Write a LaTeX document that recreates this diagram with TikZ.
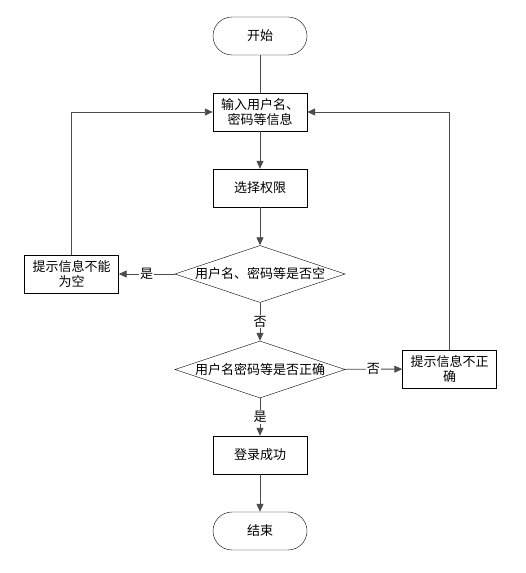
\documentclass[tikz,border=0pt]{standalone}
\usepackage{fontspec}
\setmainfont{Noto Sans CJK SC}
\usetikzlibrary{shapes.geometric,arrows.meta}
\begin{document}
\begin{tikzpicture}[x=1pt,y=1pt,
	font=\fontsize{13}{15}\selectfont,
	term/.style={draw,rounded corners=19pt,minimum width=94pt,minimum height=38pt,inner sep=0pt},
	proc/.style={draw,minimum width=94pt,minimum height=38pt,inner sep=0pt,align=center},
	dec/.style={draw,diamond,aspect=3,minimum width=170pt,minimum height=57pt,inner sep=0pt},
	line/.style={draw=black!70,line width=0.9pt},
	tip/.style={line,-{Triangle[length=8pt,width=7pt]}},
	lbl/.style={fill=white,inner sep=1pt}]
	\newcommand{\midx}{260}
	\useasboundingbox (0,0) rectangle (526,573);
	%main column
	\node [term] (start) at (\midx,537) {开始};
	\node [proc] (input) at (\midx,461) {输入用户名、\\密码等信息};
	\node [proc] (choose) at (\midx,385) {选择权限};
	\node [dec] (isempty) at (\midx,299) {用户名、密码等是否空};
	\node [dec] (iscorrect) at (\midx,203.5) {用户名密码等是否正确};
	\node [proc] (success) at (\midx,118) {登录成功};
	\node [term] (finish) at (\midx,42) {结束};
	%side boxes
	\node [proc] (emptymsg) at (71.5,299) {提示信息不能\\为空};
	\node [proc] (wrongmsg) at (449.5,204) {提示信息不正\\确};
	%connectors
	\draw [line] (start) -- (input);
	\draw [tip] (input) -- (choose);
	\draw [tip] (choose) -- (isempty);
	\draw [tip] (isempty) -- node [lbl] {否} (iscorrect);
	\draw [tip] (isempty) -- node [lbl] {是} (emptymsg);
	\draw [tip] (iscorrect) -- node [lbl] {是} (success);
	\draw [tip] (iscorrect) -- node [lbl] {否} (wrongmsg);
	\draw [tip] (success) -- (finish);
	%loops back
	\draw [tip] (emptymsg) |- (input);
	\draw [tip] (wrongmsg) |- (input);
\end{tikzpicture}
\end{document}
